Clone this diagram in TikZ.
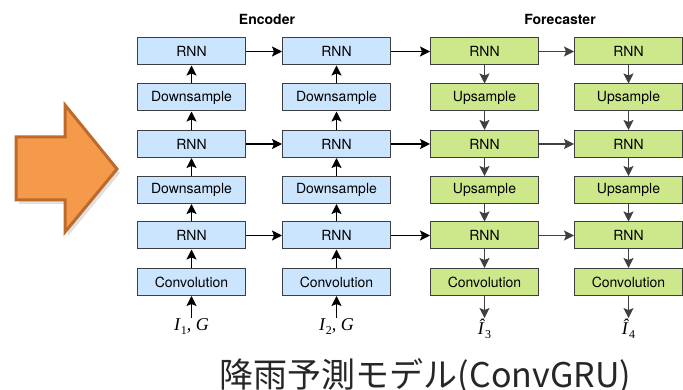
\documentclass[tikz,border=0pt]{standalone}
\usepackage{amsmath}
\usepackage{fontspec}
\setsansfont{TeX Gyre Heros}
\newfontfamily\lblfont{Liberation Serif}
\newfontfamily\jpfont{Noto Sans CJK JP}
\usepackage{xcolor}
\definecolor{enc_blue}{RGB}{204,229,255}
\definecolor{fc_green}{RGB}{205,232,138}
\definecolor{box_line}{RGB}{60,62,66}
\definecolor{fc_gray}{RGB}{64,64,64}
\definecolor{arr_orange}{RGB}{245,154,74}
\definecolor{arr_edge}{RGB}{190,106,44}
\usepackage{tikz}
\usetikzlibrary{positioning}
\usetikzlibrary{arrows.meta}

\newcommand{\sublbl}[1]{\raisebox{-0.22em}{\fontsize{12}{12}\selectfont #1}}

\tikzset{
  encbox/.style={draw=box_line, fill=enc_blue, line width=1pt, inner sep=0pt,
    minimum width=108pt, minimum height=27pt, font=\sffamily\fontsize{14}{16}\selectfont},
  fcbox/.style={encbox, fill=fc_green},
  encarrow/.style={-{Stealth[length=10pt,width=10pt,inset=2pt]}, line width=1.3pt, black},
  fcarrow/.style={encarrow, fc_gray},
  io/.style={inner sep=1pt, font=\lblfont\fontsize{18}{20}\selectfont},
  title/.style={font=\sffamily\bfseries\fontsize{14}{16}\selectfont}
}

\begin{document}
\begin{tikzpicture}[x=1pt,y=-1pt]
\useasboundingbox (0,0) rectangle (683,390);

% orange arrow
\fill[black, opacity=.12] (19,141) -- (68,141) -- (68,109) -- (120,173) -- (68,236) -- (68,204) -- (19,204) -- cycle;
\draw[draw=arr_edge, fill=arr_orange, line width=3pt, line join=miter]
  (16,137) -- (65,137) -- (65,105) -- (117,169) -- (65,232) -- (65,200) -- (16,200) -- cycle;

% titles
\node[title] (Enc) at (267,19) {Encoder};
\node[title] (Fc) at (560,19) {Forecaster};

% --- encoder, first step
\node[encbox] (aRNN1) at (191.5,51.5) {RNN};
\node[encbox] (aDown1) at (191.5,97.5) {Downsample};
\node[encbox] (aRNN2) at (191.5,144) {RNN};
\node[encbox] (aDown2) at (191.5,190) {Downsample};
\node[encbox] (aRNN3) at (191.5,235.5) {RNN};
\node[encbox] (aConv) at (191.5,282) {Convolution};
\node[io] (aIn) at (191.5,327) {\textit{I}\sublbl{1}, \textit{G}};

% --- encoder, second step
\node[encbox] (bRNN1) at (336.5,51.5) {RNN};
\node[encbox] (bDown1) at (336.5,97.5) {Downsample};
\node[encbox] (bRNN2) at (336.5,144) {RNN};
\node[encbox] (bDown2) at (336.5,190) {Downsample};
\node[encbox] (bRNN3) at (336.5,235.5) {RNN};
\node[encbox] (bConv) at (336.5,282) {Convolution};
\node[io] (bIn) at (336.5,327) {\textit{I}\sublbl{2}, \textit{G}};

% --- forecaster, first step
\node[fcbox] (cRNN1) at (484.5,51.5) {RNN};
\node[fcbox] (cUp1) at (484.5,97.5) {Upsample};
\node[fcbox] (cRNN2) at (484.5,144) {RNN};
\node[fcbox] (cUp2) at (484.5,190) {Upsample};
\node[fcbox] (cRNN3) at (484.5,235.5) {RNN};
\node[fcbox] (cConv) at (484.5,282) {Convolution};
\node[io] (cOut) at (484.5,329) {\textit{\^{I}}\sublbl{3}};

% --- forecaster, second step
\node[fcbox] (dRNN1) at (628.5,51.5) {RNN};
\node[fcbox] (dUp1) at (628.5,97.5) {Upsample};
\node[fcbox] (dRNN2) at (628.5,144) {RNN};
\node[fcbox] (dUp2) at (628.5,190) {Upsample};
\node[fcbox] (dRNN3) at (628.5,235.5) {RNN};
\node[fcbox] (dConv) at (628.5,282) {Convolution};
\node[io] (dOut) at (628.5,329) {\textit{\^{I}}\sublbl{4}};

% --- upward arrows (encoder)
\draw[encarrow] (aIn) -- (aConv);
\draw[encarrow] (aConv) -- (aRNN3);
\draw[encarrow] (aRNN3) -- (aDown2);
\draw[encarrow] (aDown2) -- (aRNN2);
\draw[encarrow] (aRNN2) -- (aDown1);
\draw[encarrow] (aDown1) -- (aRNN1);
\draw[encarrow] (bIn) -- (bConv);
\draw[encarrow] (bConv) -- (bRNN3);
\draw[encarrow] (bRNN3) -- (bDown2);
\draw[encarrow] (bDown2) -- (bRNN2);
\draw[encarrow] (bRNN2) -- (bDown1);
\draw[encarrow] (bDown1) -- (bRNN1);

% --- downward arrows (forecaster)
\draw[fcarrow] (cRNN1) -- (cUp1);
\draw[fcarrow] (cUp1) -- (cRNN2);
\draw[fcarrow] (cRNN2) -- (cUp2);
\draw[fcarrow] (cUp2) -- (cRNN3);
\draw[fcarrow] (cRNN3) -- (cConv);
\draw[fcarrow] (cConv) -- (cOut);
\draw[fcarrow] (dRNN1) -- (dUp1);
\draw[fcarrow] (dUp1) -- (dRNN2);
\draw[fcarrow] (dRNN2) -- (dUp2);
\draw[fcarrow] (dUp2) -- (dRNN3);
\draw[fcarrow] (dRNN3) -- (dConv);
\draw[fcarrow] (dConv) -- (dOut);

% --- states passed forward
\draw[encarrow] (aRNN1) -- (bRNN1);
\draw[encarrow] (aRNN2) -- (bRNN2);
\draw[encarrow] (aRNN3) -- (bRNN3);
\draw[encarrow] (bRNN1) -- (cRNN1);
\draw[encarrow] (bRNN2) -- (cRNN2);
\draw[encarrow] (bRNN3) -- (cRNN3);
\draw[fcarrow] (cRNN1) -- (dRNN1);
\draw[fcarrow] (cRNN2) -- (dRNN2);
\draw[fcarrow] (cRNN3) -- (dRNN3);

% caption
\node[font=\jpfont\fontsize{34}{38}\selectfont, text=black!85] (Cap) at (425.5,376) {降雨予測モデル(ConvGRU)};

\end{tikzpicture}
\end{document}
